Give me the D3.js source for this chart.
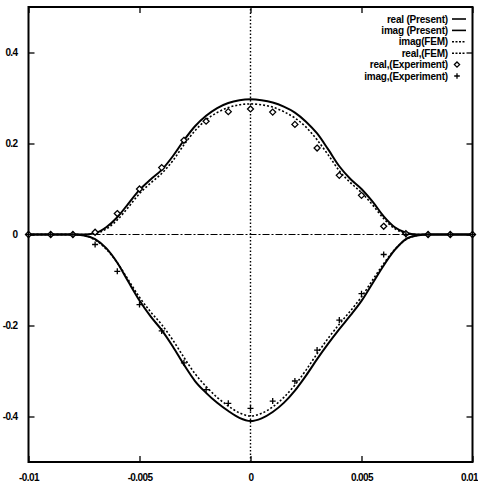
<!DOCTYPE html>
<html>
<head>
<meta charset="utf-8">
<script src="https://cdn.jsdelivr.net/npm/d3@7"></script>
<style>
  body { margin: 0; background: #fff; }
  text { font-family: "Liberation Sans", Arial, sans-serif; font-weight: bold; fill: #000; }
</style>
</head>
<body>
<svg id="chart"></svg>
<script>
// Curve sample positions (x) and values
const xCurve = [-0.01, -0.009, -0.008, -0.0075, -0.007, -0.0065, -0.006, -0.0055, -0.005, -0.0045,
  -0.004, -0.0035, -0.003, -0.0025, -0.002, -0.0015, -0.001, -0.0005, 0, 0.0005,
  0.001, 0.0015, 0.002, 0.0025, 0.003, 0.0035, 0.004, 0.0045, 0.005, 0.0055,
  0.006, 0.0065, 0.007, 0.0075, 0.008, 0.009, 0.01];

const realPresent = [0, 0, 0, 0, 0.003, 0.016, 0.038, 0.068, 0.098, 0.121,
  0.142, 0.172, 0.207, 0.238, 0.261, 0.278, 0.289, 0.295, 0.297, 0.295,
  0.29, 0.281, 0.268, 0.248, 0.222, 0.187, 0.15, 0.122, 0.1, 0.072,
  0.04, 0.016, 0.004, 0, 0, 0, 0];

const imagPresent = [0, 0, 0, -0.002, -0.01, -0.03, -0.062, -0.104, -0.145, -0.18,
  -0.21, -0.246, -0.286, -0.322, -0.348, -0.37, -0.388, -0.403, -0.41, -0.404,
  -0.39, -0.37, -0.343, -0.31, -0.274, -0.24, -0.208, -0.178, -0.146, -0.107,
  -0.068, -0.034, -0.01, -0.002, 0, 0, 0];

const imagFEM = [0, 0, 0, -0.002, -0.012, -0.032, -0.062, -0.1, -0.138, -0.17,
  -0.198, -0.232, -0.27, -0.306, -0.334, -0.358, -0.377, -0.392, -0.399, -0.393,
  -0.379, -0.358, -0.331, -0.298, -0.262, -0.228, -0.197, -0.168, -0.137, -0.1,
  -0.064, -0.033, -0.011, -0.002, 0, 0, 0];

const realFEM = [0, 0, 0, 0, 0.002, 0.012, 0.032, 0.06, 0.09, 0.113,
  0.134, 0.162, 0.197, 0.228, 0.252, 0.268, 0.279, 0.285, 0.287, 0.285,
  0.28, 0.27, 0.256, 0.236, 0.208, 0.175, 0.14, 0.114, 0.092, 0.065,
  0.035, 0.013, 0.003, 0, 0, 0, 0];

// Experiment
const xExp = [-0.01, -0.009, -0.008, -0.007, -0.006, -0.005, -0.004, -0.003, -0.002, -0.001, 0,
  0.001, 0.002, 0.003, 0.004, 0.005, 0.006, 0.007, 0.008, 0.009, 0.01];
const realExp = [0, 0, 0, 0.005, 0.046, 0.1, 0.147, 0.207, 0.249, 0.27, 0.276,
  0.269, 0.242, 0.19, 0.13, 0.086, 0.018, 0.002, 0, 0, 0];
const imagExp = [0, 0, 0, -0.022, -0.081, -0.154, -0.212, -0.282, -0.341, -0.371, -0.382,
  -0.366, -0.322, -0.254, -0.188, -0.13, -0.044, 0, 0, 0, 0];

const xTicks = [-0.01, -0.005, 0, 0.005, 0.01];
const xTickLabels = ["-0.01", "-0.005", "0", "0.005", "0.01"];
const yTicks = [-0.4, -0.2, 0, 0.2, 0.4];
const yTickLabels = ["-0.4", "-0.2", "0", "0.2", "0.4"];

const legendLabels = ["real (Present)", "imag (Present)", "imag(FEM)", "real,(FEM)", "real,(Experiment)", "imag,(Experiment)"];

const width = 478, height = 488;
const plotLeft = 28.5, plotRight = 472.5, plotTop = 7, plotBottom = 462;

const svg = d3.select("#chart").attr("width", width).attr("height", height);

const x = d3.scaleLinear().domain([-0.01, 0.01]).range([plotLeft, plotRight]);
const y = d3.scaleLinear().domain([-0.5, 0.5]).range([plotBottom, plotTop]);

// zero lines
svg.append("line")
  .attr("x1", x(-0.01)).attr("x2", x(0.01))
  .attr("y1", y(0)).attr("y2", y(0))
  .attr("stroke", "#000").attr("stroke-width", 1.2)
  .attr("stroke-dasharray", "7,2,2,2");
svg.append("line")
  .attr("x1", x(0)).attr("x2", x(0))
  .attr("y1", y(-0.5)).attr("y2", y(0.5))
  .attr("stroke", "#000").attr("stroke-width", 1.4)
  .attr("stroke-dasharray", "1.5,2");

// axes with inward ticks
const tickLen = 6;
const xAxisG = svg.append("g")
  .attr("transform", `translate(0,${plotBottom})`)
  .call(d3.axisBottom(x).tickValues(xTicks).tickSizeInner(-tickLen).tickSizeOuter(0)
    .tickFormat((d, i) => xTickLabels[i]).tickPadding(12))
  .call(g => g.select(".domain").remove());
svg.append("g")
  .attr("transform", `translate(0,${plotTop})`)
  .call(d3.axisTop(x).tickValues(xTicks).tickSizeInner(-tickLen).tickSizeOuter(0).tickFormat(""))
  .call(g => g.select(".domain").remove());
svg.append("g")
  .attr("transform", `translate(${plotLeft},0)`)
  .call(d3.axisLeft(y).tickValues(yTicks).tickSizeInner(-tickLen).tickSizeOuter(0)
    .tickFormat((d, i) => yTickLabels[i]).tickPadding(11))
  .call(g => g.select(".domain").remove());
svg.append("g")
  .attr("transform", `translate(${plotRight},0)`)
  .call(d3.axisRight(y).tickValues(yTicks).tickSizeInner(-tickLen).tickSizeOuter(0).tickFormat(""))
  .call(g => g.select(".domain").remove());

svg.selectAll(".tick line").attr("stroke", "#000").attr("stroke-width", 1.3);
svg.selectAll(".tick text")
  .attr("font-family", null)
  .style("font-size", "10px")
  .style("letter-spacing", "-0.6px");

// keep the last x label inside the window
xAxisG.selectAll(".tick text").filter((d, i) => i === xTicks.length - 1)
  .attr("text-anchor", "end").attr("dx", "5");

// frame
svg.append("rect")
  .attr("x", plotLeft).attr("y", plotTop)
  .attr("width", plotRight - plotLeft).attr("height", plotBottom - plotTop)
  .attr("fill", "none").attr("stroke", "#000").attr("stroke-width", 2);

const line = d3.line().x(d => x(d[0])).y(d => y(d[1])).curve(d3.curveMonotoneX);
const zipCurve = vals => xCurve.map((xv, i) => [xv, vals[i]]);

const series = [
  { vals: realPresent, dash: null, w: 2 },
  { vals: imagPresent, dash: null, w: 2 },
  { vals: imagFEM, dash: "2,2", w: 1.6 },
  { vals: realFEM, dash: "2,2", w: 1.6 }
];

series.forEach(s => {
  svg.append("path")
    .attr("d", line(zipCurve(s.vals)))
    .attr("fill", "none")
    .attr("stroke", "#000")
    .attr("stroke-width", s.w)
    .attr("stroke-dasharray", s.dash);
});

// experiment markers
const diamond = (cx, cy, r) => `M${cx},${cy - r}L${cx + r},${cy}L${cx},${cy + r}L${cx - r},${cy}Z`;
const plus = (cx, cy, r) => `M${cx - r},${cy}H${cx + r}M${cx},${cy - r}V${cy + r}`;

svg.append("g").selectAll("path")
  .data(xExp.map((xv, i) => [xv, realExp[i]]))
  .enter().append("path")
  .attr("d", d => diamond(x(d[0]), y(d[1]), 3))
  .attr("fill", "#fff").attr("stroke", "#000").attr("stroke-width", 1.3);

svg.append("g").selectAll("path")
  .data(xExp.map((xv, i) => [xv, imagExp[i]]))
  .enter().append("path")
  .attr("d", d => plus(x(d[0]), y(d[1]), 3))
  .attr("fill", "none").attr("stroke", "#000").attr("stroke-width", 1.3);

// legend
const legend = svg.append("g");
const legY0 = 19, legStep = 11.4, textX = 448, sx1 = 452, sx2 = 466;
legendLabels.forEach((lab, i) => {
  const ly = legY0 + i * legStep;
  legend.append("text")
    .attr("x", textX).attr("y", ly).attr("dy", "0.35em")
    .attr("text-anchor", "end")
    .style("font-size", "10px")
    .style("letter-spacing", "-0.2px")
    .text(lab);
  if (i < 4) {
    legend.append("line")
      .attr("x1", sx1).attr("x2", sx2).attr("y1", ly).attr("y2", ly)
      .attr("stroke", "#000")
      .attr("stroke-width", i < 2 ? 1.6 : 1.4)
      .attr("stroke-dasharray", i < 2 ? null : "2,1.5");
  } else if (i === 4) {
    legend.append("path").attr("d", diamond(457, ly, 2.6))
      .attr("fill", "#fff").attr("stroke", "#000").attr("stroke-width", 1.3);
  } else {
    legend.append("path").attr("d", plus(457, ly, 2.8))
      .attr("fill", "none").attr("stroke", "#000").attr("stroke-width", 1.3);
  }
});
</script>
</body>
</html>
